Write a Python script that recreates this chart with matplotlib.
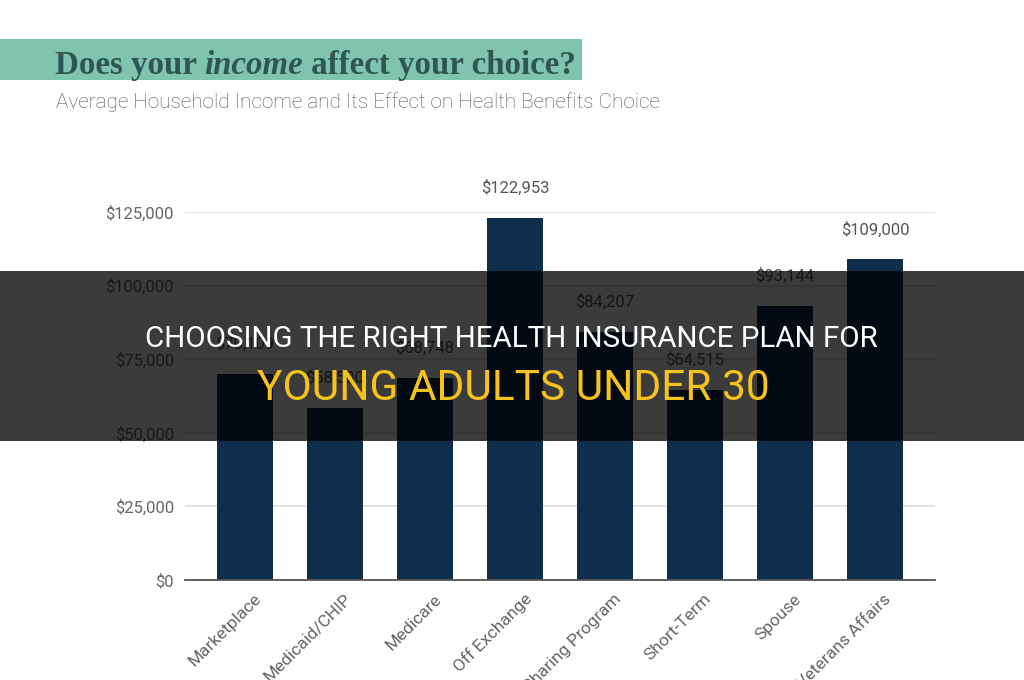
import matplotlib
matplotlib.use("Agg")
import matplotlib.pyplot as plt
from matplotlib.patches import Rectangle
from matplotlib.transforms import ScaledTranslation
from matplotlib import font_manager
import numpy as np

categories = ["Marketplace", "Medicaid/CHIP", "Medicare", "Off Exchange",
              "Health Care Sharing Program", "Short-Term", "Spouse", "Veterans Affairs"]
values = [70109, 58500, 68748, 122953, 84207, 64515, 93144, 109000]
yticks = [0, 25000, 50000, 75000, 100000, 125000]
title_parts = ["Does your ", "income", " affect your choice?"]
subtitle = "Average Household Income and Its Effect on Health Benefits Choice"
banner_line1 = "CHOOSING THE RIGHT HEALTH INSURANCE PLAN FOR"
banner_line2 = "YOUNG ADULTS UNDER 30"

names = {f.name for f in font_manager.fontManager.ttflist}
narrow = "Liberation Sans Narrow" if "Liberation Sans Narrow" in names else "Roboto"

W, H = 1024, 680
fig = plt.figure(figsize=(W / 100, H / 100), dpi=100)
fig.patch.set_facecolor("white")

def fx(px):
    return px / W

def fy(py):
    return 1 - py / H

ax = fig.add_axes([fx(185), fy(580), fx(935) - fx(185), fy(212) - fy(580)])
x = np.arange(len(categories))
bar_color = "#0f2e4b"
ax.bar(x, values, width=0.63, color=bar_color, zorder=2)
ax.set_xlim(-0.667, len(categories) - 1 + 0.667)
ax.set_ylim(0, 125000)
ax.set_yticks(yticks)
ax.set_yticklabels(["${:,.0f}".format(v) for v in yticks], fontsize=12,
                   color="#666666", family="Roboto")
ax.yaxis.grid(True, color="#dcdcdc", linewidth=1.2, zorder=0)
ax.set_axisbelow(True)
for s in ["top", "right", "left"]:
    ax.spines[s].set_visible(False)
ax.spines["bottom"].set_color("#555555")
ax.spines["bottom"].set_linewidth(1.3)
ax.spines["bottom"].set_zorder(3)
ax.tick_params(axis="y", length=0, pad=8)
ax.tick_params(axis="x", length=0, pad=12)
ax.set_xticks(x)
ax.set_xticklabels(categories, rotation=45, ha="right", va="center",
                   rotation_mode="anchor", fontsize=12.5, color="#666666",
                   family="Roboto")
for lab in ax.get_xticklabels():
    lab.set_transform(lab.get_transform() + ScaledTranslation(0.14, 0, fig.dpi_scale_trans))

for xi, v in zip(x, values):
    ax.annotate("${:,.0f}".format(v), (xi, v), xytext=(0, 21.5),
                textcoords="offset points", ha="center", va="center",
                fontsize=12, color="#555555", family="Roboto",
                annotation_clip=False)

# Title band
fig.patches.append(Rectangle((0, fy(80)), fx(582), fy(39) - fy(80),
                             transform=fig.transFigure, facecolor="#80c4ad",
                             edgecolor="none", zorder=1))
fig.canvas.draw()
renderer = fig.canvas.get_renderer()

def fit(t, target_px, lo=4, hi=80):
    for _ in range(30):
        mid = (lo + hi) / 2
        t.set_fontsize(mid)
        w = t.get_window_extent(renderer).width
        if w > target_px:
            hi = mid
        else:
            lo = mid
    t.set_fontsize(lo)

# title: measure total width then fit
title_color = "#2e5753"
styles = ["normal", "italic", "normal"]
size = 20
def place_title(size):
    xs = 55
    objs = []
    for part, st in zip(title_parts, styles):
        t = fig.text(fx(xs), fy(74), part, fontsize=size, fontweight="bold",
                     style=st, family="Liberation Serif", color=title_color,
                     va="baseline", ha="left", zorder=5)
        w = t.get_window_extent(renderer).width
        # trailing/leading spaces are measured
        xs += w
        objs.append(t)
    return objs, xs - 55

lo, hi = 8, 40
for _ in range(20):
    mid = (lo + hi) / 2
    objs, tw = place_title(mid)
    for o in objs:
        o.remove()
    if tw > 522:
        hi = mid
    else:
        lo = mid
place_title(lo)

st = fig.text(fx(56), fy(108), subtitle, family="Roboto", fontweight="light",
              color="#555555", va="baseline", ha="left", zorder=5)
fit(st, 607)

# Dark overlay banner
fig.patches.append(Rectangle((0, fy(441)), 1, fy(271) - fy(441),
                             transform=fig.transFigure, facecolor="black",
                             alpha=0.77, edgecolor="none", zorder=10))
b1 = fig.text(fx(511), fy(347), banner_line1, color="white", family=narrow,
              ha="center", va="baseline", zorder=11)
fit(b1, 733)
b2 = fig.text(fx(513), fy(400), banner_line2, color="#f6c21c", family=narrow,
              ha="center", va="baseline", zorder=11)
fit(b2, 513)

fig.savefig("out.png", dpi=100)
